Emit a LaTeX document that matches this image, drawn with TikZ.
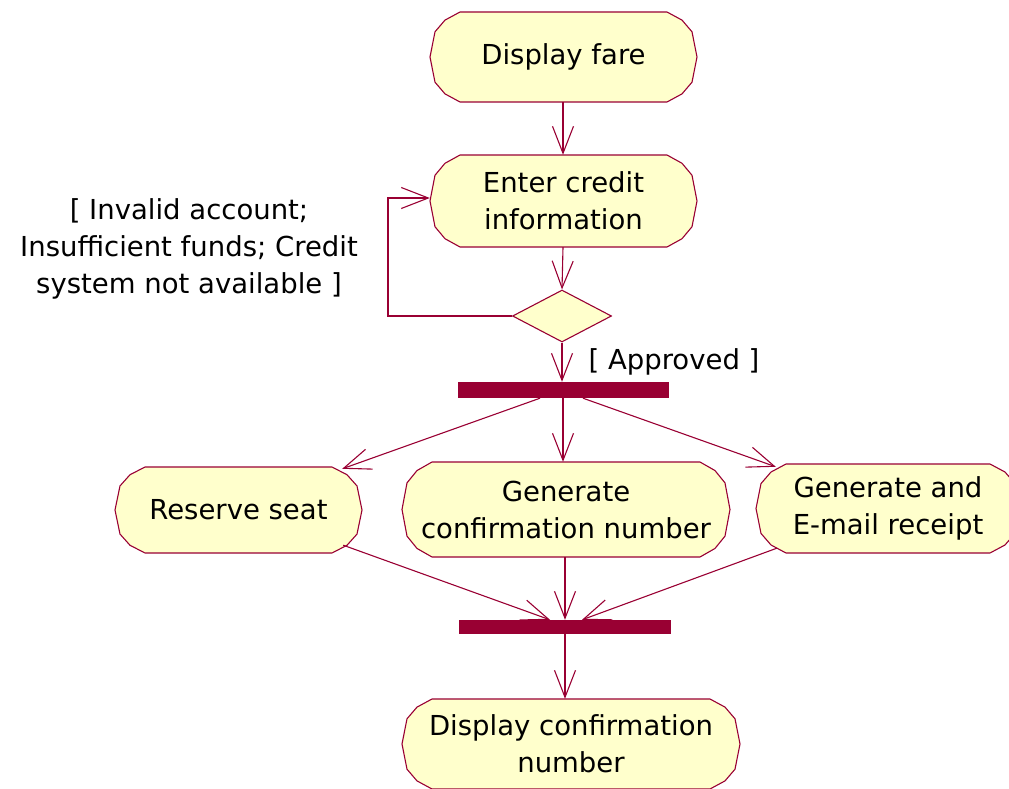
\documentclass[tikz,border=0pt]{standalone}
\usepackage{fontspec}
\setmainfont{DejaVu Sans}
\usetikzlibrary{arrows.meta,shapes.geometric}
\definecolor{uml}{HTML}{990033}
\definecolor{actfill}{HTML}{FFFFCC}
\tikzset{
  actshape/.style={draw=uml, fill=actfill, line width=1.1pt, line join=round},
  acttext/.style={rectangle, inner sep=0pt, align=center, text=black,
    font=\fontsize{27.5pt}{37pt}\selectfont},
  lbl/.style={inner sep=0pt, align=center, text=black,
    font=\fontsize{27.5pt}{37pt}\selectfont},
  bar/.style={rectangle, fill=uml, draw=none, inner sep=0pt},
  flow/.style={draw=uml, line width=1.1pt,
    -{Straight Barb[length=27pt,width=21pt,line width=1.1pt]}},
  plain/.style={draw=uml, line width=1.1pt},
  decision/.style={diamond, draw=uml, fill=actfill, line width=1.1pt,
    inner sep=0pt, minimum width=99pt, minimum height=52pt, aspect=1.9}
}
% #1 name, #2 cx, #3 cy, #4 width, #5 height, #6 text
\newcommand\actnode[6]{%
  \pgfmathsetmacro\aw{#4/2}\pgfmathsetmacro\ah{#5/2}%
  \begin{scope}[shift={(#2,#3)}]
    \path[actshape] (-\aw+30,-\ah) -- (\aw-30,-\ah) -- (\aw-15,-0.82*\ah)
      -- (\aw-5,-0.56*\ah) -- (\aw,0) -- (\aw-5,0.56*\ah) -- (\aw-15,0.82*\ah)
      -- (\aw-30,\ah) -- (-\aw+30,\ah) -- (-\aw+15,0.82*\ah) -- (-\aw+5,0.56*\ah)
      -- (-\aw,0) -- (-\aw+5,-0.56*\ah) -- (-\aw+15,-0.82*\ah) -- cycle;
  \end{scope}
  \node[acttext, minimum width=#4pt, minimum height=#5pt] (#1) at (#2,#3) {#6};
}
\begin{document}
\begin{tikzpicture}[x=1pt,y=-1pt]
  \useasboundingbox (0,0) rectangle (1009,789);
  \clip (0,0) rectangle (1009,789);

  \actnode{fare}{563.5}{57}{267}{90}{Display fare}
  \actnode{credit}{563.5}{201}{267}{92}{Enter credit\\information}
  \node[decision] (dec) at (562,316) {};
  \node[bar, minimum width=211pt, minimum height=16pt] (fork) at (563.5,390) {};
  \actnode{seat}{238.5}{510}{247}{86}{Reserve seat}
  \actnode{gen}{566}{509.5}{328}{95}{Generate\\confirmation number}
  \actnode{mail}{888}{508.5}{264}{89}{Generate and\\E-mail receipt}
  \node[bar, minimum width=212pt, minimum height=14pt] (join) at (565,627) {};
  \actnode{disp}{571}{744}{338}{90}{Display confirmation\\number}

  \node[lbl] (guard) at (189,249) {[ Invalid account;\\Insufficient funds; Credit\\system not available ]};
  \node[lbl] (appr) at (674,362) {[ Approved ]};

  \draw[flow] (fare.south -| 563,0) -- (credit.north -| 563,0);
  \draw[flow] (credit.south -| 563,0) -- (dec.north);
  \draw[flow] (dec.west) -- ++(-124,0) |- ([yshift=3pt]credit.west);
  \draw[flow] (dec.south) -- (fork.north -| dec.south);

  \draw[flow] ([xshift=-23.5pt]fork.south) -- ([xshift=-20pt,yshift=-2pt]seat.north east);
  \draw[flow] (fork.south -| 563,0) -- (gen.north -| 563,0);
  \draw[flow] ([xshift=19.5pt]fork.south) -- ([xshift=20pt,yshift=-3pt]mail.north west);

  \draw[flow] ([xshift=-19pt,yshift=8pt]seat.south east) -- ([xshift=-15pt]join.north);
  \draw[flow] (gen.south -| join.north) -- (join.north);
  \draw[flow] ([xshift=21pt,yshift=5pt]mail.south west) -- ([xshift=17pt]join.north);

  \draw[flow] (join.south) -- (join.south |- disp.north);
\end{tikzpicture}
\end{document}
